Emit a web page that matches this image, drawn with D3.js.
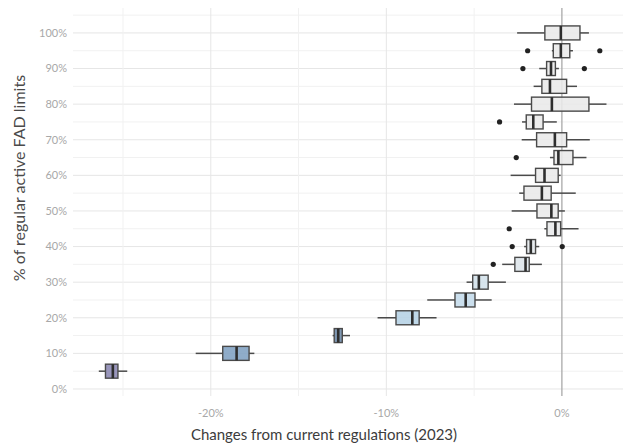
<!DOCTYPE html>
<html>
<head>
<meta charset="utf-8">
<script src="https://cdn.jsdelivr.net/npm/d3@7"></script>
<style>
  html, body { margin: 0; padding: 0; background: #fff; }
  svg { display: block; }
</style>
</head>
<body>
<svg id="chart" width="623" height="445"></svg>
<script>
// Share of regular active FAD limits (%)
const levels = [5, 10, 15, 20, 25, 30, 35, 40, 45, 50, 55, 60, 65, 70, 75, 80, 85, 90, 95, 100];

// Box-plot statistics: change from current regulations (%)
const whiskerLow  = [-26.38, -20.86, -13.06, -10.50, -7.67, -5.43, -3.40, -2.15, -1.00, -2.86, -2.43, -2.92, -0.68, -2.29, -2.27, -2.73, -1.61, -1.29, -0.57, -2.55];
const q1          = [-26.00, -19.32, -12.97,  -9.45, -6.09, -5.08, -2.68, -2.01, -0.85, -1.42, -2.16, -1.50, -0.45, -1.44, -2.03, -1.73, -1.14, -0.87, -0.49, -0.97];
const median      = [-25.58, -18.53, -12.74,  -8.52, -5.48, -4.73, -2.07, -1.77, -0.37, -0.60, -1.14, -0.99, -0.20, -0.40, -1.63, -0.57, -0.68, -0.62, -0.06, -0.06];
const q3          = [-25.29, -17.82, -12.51,  -8.13, -4.95, -4.20, -1.86, -1.50, -0.07, -0.21, -0.61, -0.21,  0.63,  0.27, -1.07,  1.54,  0.27, -0.37,  0.45,  1.03];
const whiskerHigh = [-24.76, -17.52, -12.07,  -7.14, -4.00, -3.19, -1.14, -1.29,  0.95,  0.17,  0.79, -0.07,  1.40,  1.59, -0.29,  2.54,  0.86, -0.17,  0.63,  1.54];

// Outlying scenarios: [level, change]
const outlierLevel = [35, 40, 40, 45, 65, 75, 90, 90, 95, 95];
const outlierValue = [-3.91, -2.83, 0.02, -3.00, -2.60, -3.55, -2.22, 1.28, -1.95, 2.16];

// Box fill per level
const boxFill = ["#8b87b3", "#7fa0c2", "#6d8aa8", "#b5d2e5", "#c4dbea", "#d3e1eb", "#dde5eb", "#e4e8ec",
                 "#e8e9eb", "#e9e9e9", "#e9e9e9", "#e9e9e9", "#e9e9e9", "#e9e9e9", "#e9e9e9", "#e9e9e9",
                 "#e9e9e9", "#e9e9e9", "#e9e9e9", "#e9e9e9"];

const yTicks = [0, 10, 20, 30, 40, 50, 60, 70, 80, 90, 100];
const xTicks = [-20, -10, 0];

const svg = d3.select("#chart");
const panel = { left: 73, right: 640, top: 8, bottom: 396 };

const x = d3.scaleLinear().domain([-27.85, 4.45]).range([panel.left, panel.right]);
const y = d3.scaleLinear().domain([-1.97, 107.0]).range([panel.bottom, panel.top]);

const font = "Lato, 'Open Sans', sans-serif";

// grid
const grid = svg.append("g");
const yMinor = d3.range(5, 106, 10);
grid.selectAll("line.ymin").data(yMinor).join("line")
  .attr("x1", panel.left).attr("x2", panel.right)
  .attr("y1", d => y(d)).attr("y2", d => y(d))
  .attr("stroke", "#f1f1f1").attr("stroke-width", 1);
grid.selectAll("line.ymaj").data(yTicks).join("line")
  .attr("x1", panel.left).attr("x2", panel.right)
  .attr("y1", d => y(d)).attr("y2", d => y(d))
  .attr("stroke", "#e6e6e6").attr("stroke-width", 1);
grid.selectAll("line.xmin").data([-25, -15, -5]).join("line")
  .attr("x1", d => x(d)).attr("x2", d => x(d))
  .attr("y1", panel.top).attr("y2", panel.bottom)
  .attr("stroke", "#f1f1f1").attr("stroke-width", 1);
grid.selectAll("line.xmaj").data([-20, -10]).join("line")
  .attr("x1", d => x(d)).attr("x2", d => x(d))
  .attr("y1", panel.top).attr("y2", panel.bottom)
  .attr("stroke", "#e6e6e6").attr("stroke-width", 1);

// reference line at no change
svg.append("line")
  .attr("x1", x(0)).attr("x2", x(0))
  .attr("y1", panel.top).attr("y2", panel.bottom)
  .attr("stroke", "#a9a9a9").attr("stroke-width", 1.3);

// boxes
const boxH = 14;
const rows = levels.map((lv, i) => ({
  lv, lo: whiskerLow[i], q1: q1[i], med: median[i], q3: q3[i], hi: whiskerHigh[i], fill: boxFill[i]
}));
const g = svg.append("g").selectAll("g").data(rows).join("g");
g.append("line")
  .attr("x1", d => x(d.lo)).attr("x2", d => x(d.q1))
  .attr("y1", d => y(d.lv)).attr("y2", d => y(d.lv))
  .attr("stroke", "#4a4a4a").attr("stroke-width", 1.5);
g.append("line")
  .attr("x1", d => x(d.q3)).attr("x2", d => x(d.hi))
  .attr("y1", d => y(d.lv)).attr("y2", d => y(d.lv))
  .attr("stroke", "#4a4a4a").attr("stroke-width", 1.5);
g.append("rect")
  .attr("x", d => x(d.q1)).attr("width", d => x(d.q3) - x(d.q1))
  .attr("y", d => y(d.lv) - boxH / 2).attr("height", boxH)
  .attr("fill", d => d.fill).attr("fill-opacity", 0.88)
  .attr("stroke", "#4a4a4a").attr("stroke-width", 1.4);
g.append("line")
  .attr("x1", d => x(d.med)).attr("x2", d => x(d.med))
  .attr("y1", d => y(d.lv) - boxH / 2).attr("y2", d => y(d.lv) + boxH / 2)
  .attr("stroke", "#2e2e2e").attr("stroke-width", 2.6);

// outliers
svg.append("g").selectAll("circle")
  .data(outlierLevel.map((lv, i) => ({ lv, v: outlierValue[i] })))
  .join("circle")
  .attr("cx", d => x(d.v)).attr("cy", d => y(d.lv)).attr("r", 2.6)
  .attr("fill", "#222");

// axes labels
svg.append("g").selectAll("text").data(yTicks).join("text")
  .attr("x", 67).attr("y", d => y(d)).attr("dy", "0.35em")
  .attr("text-anchor", "end")
  .attr("font-family", font).attr("font-size", 11).attr("fill", "#a8a8a8")
  .text(d => d + "%");

svg.append("g").selectAll("text").data(xTicks).join("text")
  .attr("x", d => x(d)).attr("y", 417)
  .attr("text-anchor", "middle")
  .attr("font-family", font).attr("font-size", 11).attr("fill", "#a8a8a8")
  .text(d => d + "%");

svg.append("text")
  .attr("x", 324).attr("y", 440)
  .attr("text-anchor", "middle")
  .attr("font-family", font).attr("font-size", 15).attr("fill", "#3c3c3c")
  .text("Changes from current regulations (2023)");

svg.append("text")
  .attr("transform", "translate(25,178) rotate(-90)")
  .attr("text-anchor", "middle")
  .attr("font-family", font).attr("font-size", 16).attr("fill", "#4a4a4a")
  .text("% of regular active FAD limits");
</script>
</body>
</html>
